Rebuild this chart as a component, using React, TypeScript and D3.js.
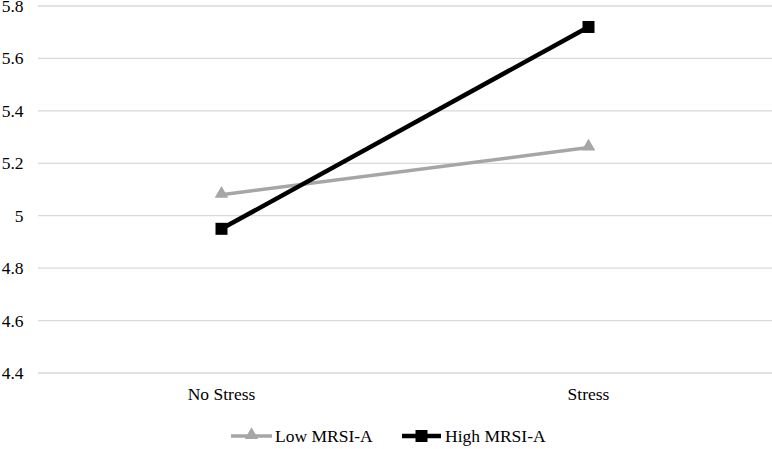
import React from "react";
import * as d3 from "d3";

const categories = ["No Stress", "Stress"];
const lowValues = [5.08, 5.26];
const highValues = [4.95, 5.72];
const yTicks = [4.4, 4.6, 4.8, 5, 5.2, 5.4, 5.6, 5.8];
const seriesNames = ["Low MRSI-A", "High MRSI-A"];

const W = 772;
const H = 449;
const left = 38;
const right = 772;
const top = 6;
const bottom = 373;

const css = `svg.chart text { font-family: "Liberation Serif", "Times New Roman", Tinos, serif !important; }`;

export default function App() {
  const x = d3.scaleBand<string>().domain(categories).range([left, right]);
  const y = d3.scaleLinear().domain([4.4, 5.8]).range([bottom, top]);
  const cx = (c: string) => (x(c) as number) + x.bandwidth() / 2;
  const line = d3
    .line<number>()
    .x((_, i) => cx(categories[i]))
    .y((d) => y(d));
  const tri = d3.symbol().type(d3.symbolTriangle).size(80)();
  const ts = { fontFamily: '"Liberation Serif", "Times New Roman", serif' };

  return (
    <div style={{ position: "absolute", left: 0, top: 0, width: W, height: H, background: "#fff" }}>
      <style>{css}</style>
      <svg className="chart" width={W} height={H}>
        {yTicks.map((t) => (
          <line key={"g" + t} x1={left} x2={right} y1={y(t)} y2={y(t)} stroke="#d9d9d9" strokeWidth={1.3} />
        ))}
        <path d={line(lowValues) || ""} fill="none" stroke="#a6a6a6" strokeWidth={3.5} />
        {lowValues.map((v, i) => (
          <path key={i} d={tri || ""} transform={`translate(${cx(categories[i])},${y(v) - 1})`} fill="#a6a6a6" />
        ))}
        <path d={line(highValues) || ""} fill="none" stroke="#000" strokeWidth={4.5} />
        {highValues.map((v, i) => (
          <rect key={i} x={cx(categories[i]) - 6} y={y(v) - 6} width={12} height={12} fill="#000" />
        ))}
        <line x1={231} x2={272} y1={436} y2={436} stroke="#a6a6a6" strokeWidth={3.5} />
        <path d={tri || ""} transform="translate(251.5,435)" fill="#a6a6a6" />
        <line x1={402} x2={441} y1={436} y2={436} stroke="#000" strokeWidth={4.5} />
        <rect x={415.5} y={430} width={12} height={12} fill="#000" />

        {yTicks.map((t) => (
          <text key={"t" + t} x={23.5} y={y(t) + 6} textAnchor="end" fontSize={17.5} fill="#000" style={ts}>
            {String(t)}
          </text>
        ))}
        {categories.map((c) => (
          <text key={c} x={cx(c)} y={400} textAnchor="middle" fontSize={17.5} fill="#000" style={ts}>
            {c}
          </text>
        ))}
        <text x={275} y={442} fontSize={17.5} fill="#000" style={ts}>
          {seriesNames[0]}
        </text>
        <text x={445} y={442} fontSize={17.5} fill="#000" style={ts}>
          {seriesNames[1]}
        </text>
      </svg>
    </div>
  );
}
